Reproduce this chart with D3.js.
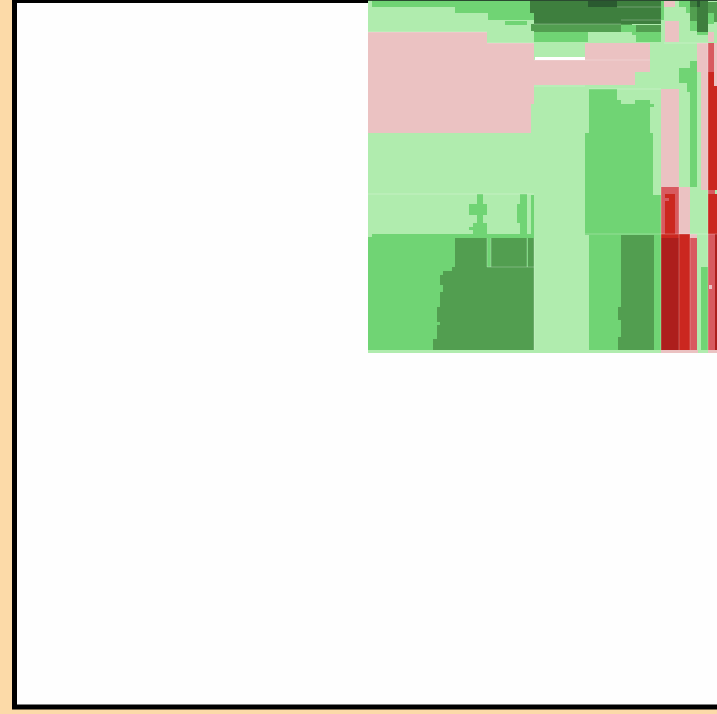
<!DOCTYPE html>
<html>
<head>
<meta charset="utf-8">
<script src="https://cdn.jsdelivr.net/npm/d3@7"></script>
<style>
    html, body { margin: 0; padding: 0; background: #fcdaa8; overflow: hidden; }
    svg { display: block; }
</style>
</head>
<body>
<div id="chart"></div>
<script>
// regions are [x0, x1, y0, y1] in map units
const classNames = ['light', 'mid', 'dark', 'darker', 'darkest', 'pink', 'redMid', 'red', 'redDark', 'blank'];
const classColors = ['#b0ecae', '#70d474', '#529e50', '#3e7f3e', '#2a5a30', '#ebc2c2', '#d85a5f', '#cb271f', '#ad1e1c', '#ffffff'];

const light = [[368, 717, 1, 353]];

const pink = [
    [368, 487, 32, 43], [368, 534, 43, 104], [368, 531, 104, 133],
    [585, 650, 43, 60], [534, 650, 60, 72], [534, 635, 72, 85],
    [664, 675, 1, 7], [665, 679, 21, 42], [661, 679, 89, 187], [679, 690, 187, 234],
    [697, 708, 43, 72], [701, 709, 72, 190], [714, 717, 43, 86], [708, 714, 32, 42],
    [661, 698, 350, 353], [708, 717, 350, 353], [690, 697, 234, 238]
];

const mid = [
    [372, 534, 1, 7], [455, 534, 7, 13], [488, 534, 13, 20], [505, 527, 21, 25],
    [534, 588, 32, 42], [621, 632, 25, 32], [632, 636, 25, 35], [636, 661, 32, 42],
    [661, 664, 1, 20], [679, 686, 1, 7], [686, 690, 1, 13], [690, 697, 21, 31],
    [697, 708, 32, 35], [708, 714, 13, 24],
    [589, 617, 89, 133], [617, 621, 100, 133], [621, 635, 104, 133], [635, 650, 100, 133], [650, 654, 104, 107],
    [585, 653, 133, 195], [585, 661, 195, 235], [589, 661, 235, 350],
    [690, 697, 61, 187], [679, 690, 68, 83], [687, 690, 83, 92],
    [477, 483, 194, 204], [469, 487, 204, 215], [477, 483, 215, 223], [473, 487, 223, 234], [469, 473, 227, 230],
    [520, 527, 194, 234], [517, 520, 204, 223], [531, 534, 195, 235],
    [372, 534, 234, 238], [368, 534, 237, 350], [701, 708, 267, 350]
];

const dark = [
    [531, 534, 24, 31], [534, 621, 24, 32], [621, 632, 20, 25], [636, 661, 25, 32],
    [690, 697, 7, 21], [708, 714, 2, 13], [714, 717, 2, 22],
    [455, 487, 238, 267], [491, 527, 238, 267], [528, 534, 238, 267],
    [452, 534, 267, 271], [443, 534, 271, 275], [440, 534, 275, 285], [443, 534, 285, 292],
    [440, 534, 292, 307], [437, 534, 307, 322], [440, 534, 322, 325], [437, 534, 325, 339], [433, 534, 339, 350],
    [621, 654, 235, 350], [618, 621, 307, 320], [618, 621, 337, 350]
];

const darker = [
    [530, 534, 1, 13], [534, 661, 1, 24], [690, 708, 1, 7], [697, 708, 7, 32]
];

const darkest = [[588, 617, 1, 7], [697, 700, 1, 7]];

const redMid = [
    [708, 714, 43, 72], [661, 679, 187, 234], [708, 715, 234, 350],
    [690, 697, 238, 350], [708, 715, 190, 194]
];

const red = [
    [708, 714, 72, 86], [708, 717, 86, 190], [708, 717, 194, 234],
    [665, 675, 194, 234], [661, 679, 234, 238], [679, 690, 234, 350]
];

const redDark = [[661, 679, 238, 350], [715, 717, 234, 350]];

const blank = [[535, 585, 57, 60]];

// small patches that sit on top of the others
const redMidNibs = [[665, 669, 198, 201]];
const pinkNibs = [[709, 712, 285, 289]];

// thin pale seams between neighbouring regions [x0, x1, y0, y1]
const seams = [
    [368, 534, 194, 194], [534, 650, 60, 60], [534, 621, 24, 24], [621, 661, 20, 20], [368, 487, 32, 32],
    [487, 534, 43, 43], [534, 585, 86, 86], [589, 661, 89, 89], [617, 661, 7, 7],
    [664, 708, 43, 43], [585, 661, 234, 234], [487, 534, 267, 267], [487, 487, 238, 267],
    [491, 491, 238, 267], [527, 527, 238, 267], [661, 717, 234, 234], [661, 661, 187, 350],
    [679, 679, 187, 350], [690, 690, 234, 350], [534, 534, 238, 350], [708, 708, 43, 350]
];

const frameLeft = 14.5, frameTop = 0.5, frameBottom = 707, frameRight = 760;

const width = 717, height = 714;

const svg = d3.select('#chart')
    .append('svg')
    .attr('width', width)
    .attr('height', height);

const x = d3.scaleLinear().domain([368, 717]).range([368, 717]);
const y = d3.scaleLinear().domain([0, 353]).range([0, 353]);
const color = d3.scaleOrdinal().domain(classNames).range(classColors);

svg.append('rect')
    .attr('x', frameLeft)
    .attr('y', frameTop)
    .attr('width', frameRight - frameLeft)
    .attr('height', frameBottom - frameTop)
    .attr('fill', '#fefefe')
    .attr('stroke', '#000')
    .attr('stroke-width', 5);

const layers = [
    ['light', light], ['pink', pink], ['mid', mid], ['dark', dark], ['darker', darker],
    ['darkest', darkest], ['redMid', redMid], ['red', red], ['redDark', redDark], ['blank', blank],
    ['redMid', redMidNibs], ['pink', pinkNibs]
];

const map = svg.append('g').attr('id', 'map');

layers.forEach(([name, cells]) => {
    map.append('g')
        .attr('class', name)
        .attr('fill', color(name))
        .selectAll('rect')
        .data(cells)
        .join('rect')
        .attr('x', d => x(d[0]))
        .attr('y', d => y(d[2]))
        .attr('width', d => x(d[1]) - x(d[0]))
        .attr('height', d => y(d[3]) - y(d[2]));
});

map.append('g')
    .attr('stroke', '#fff')
    .attr('stroke-opacity', 0.25)
    .selectAll('line')
    .data(seams)
    .join('line')
    .attr('x1', d => x(d[0]))
    .attr('x2', d => x(d[1]))
    .attr('y1', d => y(d[2]))
    .attr('y2', d => y(d[3]));

// the top edge of the frame shows through the map as a thin dark line
svg.append('line')
    .attr('x1', x(368))
    .attr('x2', x(717))
    .attr('y1', 0.5)
    .attr('y2', 0.5)
    .attr('stroke', '#2a4a30');
</script>
</body>
</html>
